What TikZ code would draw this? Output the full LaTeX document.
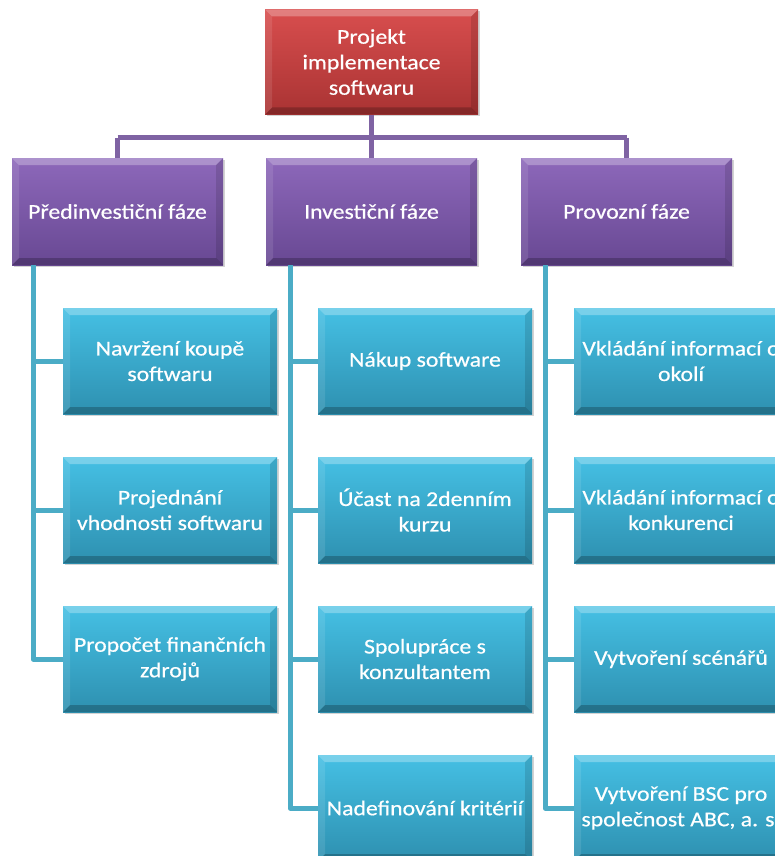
\documentclass[tikz,border=0pt]{standalone}
\usepackage{fontspec}
\setmainfont{Carlito}[FakeStretch=1.13, FakeBold=0.6]
\usetikzlibrary{shadows}
\definecolor{redT}{HTML}{D84E4E}
\definecolor{redB}{HTML}{A93333}
\definecolor{purT}{HTML}{8D68BA}
\definecolor{purB}{HTML}{684893}
\definecolor{cyaT}{HTML}{45C0E4}
\definecolor{cyaB}{HTML}{2E90B0}
\definecolor{purLine}{HTML}{7F63A3}
\definecolor{cyaLine}{HTML}{4BACC6}
\tikzset{
  bevel/.style={path picture={
    \fill[white,opacity=0.28] (path picture bounding box.north west) -- (path picture bounding box.north east) -- ([xshift=-7pt,yshift=-7pt]path picture bounding box.north east) -- ([xshift=7pt,yshift=-7pt]path picture bounding box.north west) -- cycle;
    \fill[black,opacity=0.22] (path picture bounding box.south west) -- (path picture bounding box.south east) -- ([xshift=-7pt,yshift=7pt]path picture bounding box.south east) -- ([xshift=7pt,yshift=7pt]path picture bounding box.south west) -- cycle;
    \fill[black,opacity=0.12] (path picture bounding box.north east) -- (path picture bounding box.south east) -- ([xshift=-7pt,yshift=7pt]path picture bounding box.south east) -- ([xshift=-7pt,yshift=-7pt]path picture bounding box.north east) -- cycle;
    \fill[white,opacity=0.10] (path picture bounding box.north west) -- (path picture bounding box.south west) -- ([xshift=7pt,yshift=7pt]path picture bounding box.south west) -- ([xshift=7pt,yshift=-7pt]path picture bounding box.north west) -- cycle;
  }},
  box/.style={rectangle, inner sep=0pt, text=white, align=center,
    font=\fontsize{21}{25.5}\selectfont, bevel,
    drop shadow={opacity=0.35, shadow xshift=1.5pt, shadow yshift=-1.5pt}},
  redbox/.style={box, top color=redT, bottom color=redB, minimum width=213pt, minimum height=105pt},
  purbox/.style={box, top color=purT, bottom color=purB, minimum width=211pt, minimum height=107pt},
  cyabox/.style={box, top color=cyaT, bottom color=cyaB, minimum width=214pt, minimum height=106pt},
  purline/.style={draw=purLine, line width=5.5pt},
  cyaline/.style={draw=cyaLine, line width=5pt, line join=round}
}
\begin{document}
\begin{tikzpicture}[x=1pt,y=-1pt]
\useasboundingbox (0,0) rectangle (775,856);
% top
\node[redbox] (top) at (371.5,62) {Projekt\\implementace\\softwaru};
% phases
\node[purbox] (p1) at (117.5,211.5) {Předinvestiční fáze};
\node[purbox] (p2) at (371.5,211.5) {Investiční fáze};
\node[purbox] (p3) at (626.5,211.5) {Provozní fáze};
% column 1
\node[cyabox] (a1) at (170,361) {Navržení koupě\\softwaru};
\node[cyabox] (a2) at (170,510) {Projednání\\vhodnosti softwaru};
\node[cyabox] (a3) at (170,659) {Propočet finančních\\zdrojů};
% column 2
\node[cyabox] (b1) at (425,361) {Nákup software};
\node[cyabox] (b2) at (425,510) {Účast na 2denním\\kurzu};
\node[cyabox] (b3) at (425,659) {Spolupráce s\\konzultantem};
\node[cyabox] (b4) at (425,808) {Nadefinování kritérií};
% column 3
\node[cyabox] (c1) at (681,361) {Vkládání informací o\\okolí};
\node[cyabox] (c2) at (681,510) {Vkládání informací o\\konkurenci};
\node[cyabox] (c3) at (681,659) {Vytvoření scénářů};
\node[cyabox] (c4) at (681,808) {Vytvoření BSC pro\\společnost ABC, a. s.};
% connectors
\coordinate (bus) at (0,137.5);
\path[purline] (top.south) -- (top.south |- p1.north);
\path[purline] (p1.north |- bus) -- (p3.north |- bus);
\path[purline] (p1.north |- bus) -- (p1.north);
\path[purline] (p3.north |- bus) -- (p3.north);
\coordinate (v1) at (33,0);
\coordinate (v2) at (290,0);
\coordinate (v3) at (545,0);
\path[cyaline] (v1 |- p1.south) -- (v1 |- a3.west) -- (a3.west);
\path[cyaline] (v1 |- a1.west) -- (a1.west);
\path[cyaline] (v1 |- a2.west) -- (a2.west);
\path[cyaline] (v2 |- p2.south) -- (v2 |- b4.west) -- (b4.west);
\path[cyaline] (v2 |- b1.west) -- (b1.west);
\path[cyaline] (v2 |- b2.west) -- (b2.west);
\path[cyaline] (v2 |- b3.west) -- (b3.west);
\path[cyaline] (v3 |- p3.south) -- (v3 |- c4.west) -- (c4.west);
\path[cyaline] (v3 |- c1.west) -- (c1.west);
\path[cyaline] (v3 |- c2.west) -- (c2.west);
\path[cyaline] (v3 |- c3.west) -- (c3.west);
\end{tikzpicture}
\end{document}
